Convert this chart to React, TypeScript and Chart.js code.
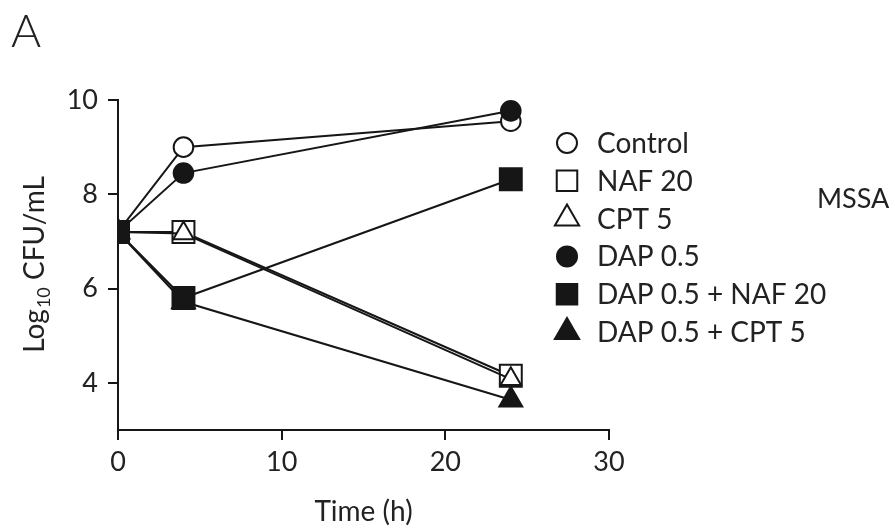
import React, { useEffect, useRef } from 'react';
import { Chart, registerables } from 'chart.js';

Chart.register(...registerables);

// ---- data ----
const timeHours = [0, 4, 24];
const controlValues = [7.2, 9.0, 9.55];
const naf20Values = [7.2, 7.2, 4.15];
const cpt5Values = [7.2, 7.17, 4.08];
const dap05Values = [7.2, 8.45, 9.77];
const dapNafValues = [7.2, 5.8, 8.32];
const dapCptValues = [7.2, 5.72, 3.64];

const xTicks = [0, 10, 20, 30];
const yTicks = [4, 6, 8, 10];

const seriesLabels = ['Control', 'NAF 20', 'CPT 5', 'DAP 0.5', 'DAP 0.5 + NAF 20', 'DAP 0.5 + CPT 5'];
const seriesValues = [controlValues, naf20Values, cpt5Values, dap05Values, dapNafValues, dapCptValues];
const seriesShapes = ['circle', 'rect', 'triangle', 'circle', 'rect', 'triangle'];
const seriesFilled = [false, false, false, true, true, true];
const seriesOrder = [6, 5, 4, 3, 1, 2];
const seriesRadius = [9.8, 15.5, 11.8, 9.8, 15.5, 13.2];

const FONT = 'Lato, "Open Sans", "DejaVu Sans", sans-serif';
const INK = '#161616';
const TEXT = '#222222';

function drawMarker(ctx: CanvasRenderingContext2D, shape: string, filled: boolean, x: number, y: number, r: number) {
  ctx.save();
  ctx.beginPath();
  if (shape === 'circle') {
    ctx.arc(x, y, r, 0, Math.PI * 2);
  } else if (shape === 'rect') {
    const h = r * Math.SQRT1_2;
    ctx.rect(x - h, y - h, 2 * h, 2 * h);
  } else {
    const a = (2 * Math.PI) / 3;
    ctx.moveTo(x, y - r);
    ctx.lineTo(x + Math.sin(a) * r, y - Math.cos(a) * r);
    ctx.lineTo(x + Math.sin(2 * a) * r, y - Math.cos(2 * a) * r);
    ctx.closePath();
  }
  ctx.fillStyle = filled ? INK : '#ffffff';
  ctx.fill();
  ctx.lineWidth = 2;
  ctx.strokeStyle = INK;
  ctx.stroke();
  ctx.restore();
}

const decorPlugin = {
  id: 'decor',
  afterDraw(chart: any) {
    const ctx: CanvasRenderingContext2D = chart.ctx;
    const area = chart.chartArea;
    ctx.save();
    ctx.fillStyle = TEXT;
    ctx.textBaseline = 'alphabetic';

    // Panel letter
    ctx.font = `300 46px ${FONT}`;
    ctx.textAlign = 'left';
    ctx.fillText('A', 11, 47);

    // MSSA
    ctx.font = `27px ${FONT}`;
    ctx.fillText('MSSA', 817, 208);

    // X title
    ctx.textAlign = 'center';
    ctx.font = `28px ${FONT}`;
    ctx.fillText('Time (h)', (area.left + area.right) / 2, 521);

    // Y title with subscript
    ctx.save();
    ctx.translate(44, (area.top + area.bottom) / 2);
    ctx.rotate(-Math.PI / 2);
    ctx.textAlign = 'left';
    const mainFont = `28px ${FONT}`;
    const subFont = `18px ${FONT}`;
    ctx.font = mainFont;
    const w1 = ctx.measureText('Log').width;
    const w3 = ctx.measureText(' CFU/mL').width;
    ctx.font = subFont;
    const w2 = ctx.measureText('10').width;
    const total = w1 + w2 + w3;
    let cx = -total / 2;
    ctx.font = mainFont;
    ctx.fillText('Log', cx, 0);
    cx += w1 + 1;
    ctx.font = subFont;
    ctx.fillText('10', cx, 6);
    cx += w2;
    ctx.font = mainFont;
    ctx.fillText(' CFU/mL', cx, 0);
    ctx.restore();

    // Legend
    const legendTop = 143;
    const rowGap = 37.8;
    ctx.font = `28px ${FONT}`;
    ctx.textAlign = 'left';
    ctx.textBaseline = 'middle';
    seriesLabels.forEach((label, i) => {
      const y = legendTop + i * rowGap;
      const shape = seriesShapes[i];
      const r = shape === 'rect' ? 14.5 : shape === 'triangle' ? 14 : 10;
      drawMarker(ctx, shape, seriesFilled[i], 567, y, r);
      ctx.fillStyle = TEXT;
      ctx.fillText(label, 597, y + 1);
    });
    ctx.restore();
  },
};

export default function App() {
  const canvasRef = useRef<HTMLCanvasElement | null>(null);

  useEffect(() => {
    if (!canvasRef.current) return;
    const datasets = seriesLabels.map((label, i) => ({
      label,
      data: timeHours.map((t, j) => ({ x: t, y: seriesValues[i][j] })),
      borderColor: INK,
      borderWidth: 2,
      pointStyle: seriesShapes[i],
      pointRadius: seriesRadius[i],
      pointBorderWidth: 2,
      pointBorderColor: INK,
      pointBackgroundColor: seriesFilled[i] ? INK : '#ffffff',
      showLine: true,
      tension: 0,
      order: seriesOrder[i],
    }));

    const chart = new Chart(canvasRef.current, {
      type: 'scatter',
      data: { datasets },
      options: {
        animation: false,
        responsive: false,
        maintainAspectRatio: false,
        layout: { padding: { left: 18, top: 100, right: 286, bottom: 0 } },
        plugins: { legend: { display: false }, tooltip: { enabled: false }, title: { display: false } },
        scales: {
          x: {
            type: 'linear',
            min: 0,
            max: 30,
            afterFit: (s: any) => { s.height = 99; },
            afterBuildTicks: (s: any) => { s.ticks = xTicks.map((v) => ({ value: v })); },
            grid: { drawOnChartArea: false, drawTicks: true, tickLength: 10, lineWidth: 2, color: INK },
            border: { display: true, width: 2, color: INK },
            ticks: { color: TEXT, font: { family: FONT, size: 27 }, padding: 6, maxRotation: 0 },
          },
          y: {
            type: 'linear',
            min: 3,
            max: 10,
            afterFit: (s: any) => { s.width = 100; },
            afterBuildTicks: (s: any) => { s.ticks = yTicks.map((v) => ({ value: v })); },
            grid: { drawOnChartArea: false, drawTicks: true, tickLength: 10, lineWidth: 2, color: INK },
            border: { display: true, width: 2, color: INK },
            ticks: { color: TEXT, font: { family: FONT, size: 27 }, padding: 10 },
          },
        },
      },
      plugins: [decorPlugin],
    } as any);
    return () => chart.destroy();
  }, []);

  return (
    <div style={{ position: 'absolute', left: 0, top: 0, width: 895, height: 529, background: '#fff' }}>
      <canvas ref={canvasRef} width={895} height={529} />
    </div>
  );
}
